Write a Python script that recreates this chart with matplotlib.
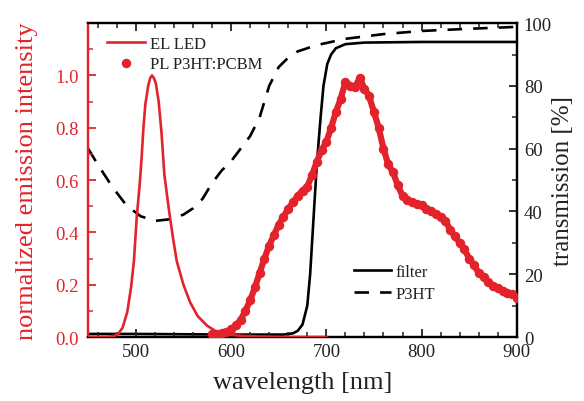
import matplotlib
matplotlib.use("Agg")
import matplotlib.pyplot as plt
from matplotlib.ticker import MultipleLocator

plt.rcParams['font.family'] = ['Liberation Serif', 'DejaVu Serif']
plt.rcParams['mathtext.fontset'] = 'stix'

RED = '#e3232b'

# EL LED emission (normalized)
el_wl = [450, 470, 478, 482, 486, 491, 495, 498, 501, 504, 506, 508, 510, 513, 515, 517, 519,
         521, 524, 527, 530, 535, 539, 543, 550, 557, 565, 575, 585, 595, 610, 630, 660, 700]
el_int = [0.0, 0.0, 0.005, 0.015, 0.035, 0.095, 0.19, 0.29, 0.46, 0.58, 0.68, 0.80, 0.89, 0.96, 0.99, 1.0, 0.99,
          0.97, 0.90, 0.78, 0.62, 0.48, 0.38, 0.29, 0.20, 0.133, 0.08, 0.043, 0.02, 0.01, 0.005, 0.002, 0.0, 0.0]

# PL P3HT:PCBM (normalized)
pl_wl = [580, 585, 590, 595, 600, 605, 610, 615, 620, 625, 630, 635, 640, 645, 650, 655, 660, 665, 670,
         675, 680, 685, 690, 695, 700, 705, 710, 715, 720, 725, 730, 735, 740, 745, 750, 755, 760, 765,
         770, 775, 780, 785, 790, 795, 800, 805, 810, 815, 820, 825, 830, 835, 840, 845, 850, 855, 860,
         865, 870, 875, 880, 885, 890, 895, 900]
pl_int = [0.01, 0.012, 0.015, 0.02, 0.03, 0.045, 0.065, 0.10, 0.14, 0.19, 0.245, 0.30, 0.35, 0.39, 0.43,
          0.46, 0.49, 0.515, 0.54, 0.56, 0.575, 0.62, 0.67, 0.715, 0.745, 0.80, 0.86, 0.91, 0.975, 0.96,
          0.955, 0.99, 0.95, 0.92, 0.86, 0.80, 0.72, 0.66, 0.63, 0.58, 0.54, 0.525, 0.515, 0.51, 0.505,
          0.49, 0.48, 0.47, 0.46, 0.445, 0.41, 0.385, 0.36, 0.335, 0.30, 0.275, 0.245, 0.23, 0.21, 0.197,
          0.188, 0.178, 0.17, 0.163, 0.15]

# filter transmission [%]
filt_wl = [450, 500, 600, 655, 665, 670, 675, 680, 683, 686, 690, 694, 697, 701, 705, 710, 720, 740, 800, 900]
filt_t = [1.0, 1.0, 0.8, 0.8, 1.2, 2.0, 4.0, 10.0, 20.0, 35.0, 55.0, 70.0, 80.0, 87.0, 90.0, 92.0, 93.3,
          93.8, 94.0, 94.0]

# P3HT transmission [%]
p3_wl = [450, 460, 475, 490, 505, 520, 535, 550, 560, 570, 580, 590, 600, 610, 620, 630, 640, 650, 660,
         670, 690, 720, 760, 800, 850, 900]
p3_t = [60, 55, 48, 42, 38.5, 37, 37.5, 39, 41, 44, 49, 53, 56, 60, 64, 70, 80, 86, 89, 91, 93, 95, 96.5,
        97.5, 98.2, 98.8]

fig = plt.figure(figsize=(5.84, 4.02), dpi=100)
ax = fig.add_axes([0.151, 0.159, 0.734, 0.781])
ax2 = ax.twinx()

# left axis: emission
ax.plot(pl_wl, pl_int, color=RED, lw=4.5, solid_capstyle='round', zorder=2)
ax.plot(el_wl, el_int, color=RED, lw=1.9, label='EL LED', zorder=3)
ax.plot(pl_wl, pl_int, 'o', color=RED, ms=5.8, mec=RED, label='PL P3HT:PCBM', zorder=3)
ax.set_xlim(450, 900)
ax.set_ylim(0, 1.2)

# right axis: transmission
ax2.plot(filt_wl, filt_t, color='black', lw=1.9, label='filter')
ax2.plot(p3_wl, p3_t, color='black', lw=1.9, ls=(0, (5.5, 4.2)), label='P3HT')
ax2.set_ylim(0, 100)
ax.set_zorder(ax2.get_zorder() + 1)
ax.patch.set_visible(False)

# ticks
ax.xaxis.set_major_locator(MultipleLocator(100))
ax.xaxis.set_minor_locator(MultipleLocator(20))
ax.yaxis.set_major_locator(MultipleLocator(0.2))
ax.yaxis.set_minor_locator(MultipleLocator(0.1))
ax2.yaxis.set_major_locator(MultipleLocator(20))
ax2.yaxis.set_minor_locator(MultipleLocator(10))

ax.tick_params(axis='x', which='both', direction='in', top=True, labelsize=13.5, colors='#222222', pad=4)
ax.tick_params(axis='x', which='major', length=6, width=1.3)
ax.tick_params(axis='x', which='minor', length=3.5, width=1.1)
ax.tick_params(axis='y', which='both', direction='in', colors=RED, labelsize=13.5, pad=7)
ax.tick_params(axis='y', which='major', length=6, width=1.3)
ax.tick_params(axis='y', which='minor', length=3.5, width=1.1)
ax2.tick_params(axis='y', which='both', direction='in', colors='#222222', labelsize=13.5, pad=5)
ax2.tick_params(axis='y', which='major', length=6, width=1.3)
ax2.tick_params(axis='y', which='minor', length=3.5, width=1.1)
ax.set_yticks([0, 0.2, 0.4, 0.6, 0.8, 1.0])
ax.set_yticklabels(['0.0', '0.2', '0.4', '0.6', '0.8', '1.0'])

for s in ['top', 'bottom', 'right']:
    ax.spines[s].set_linewidth(1.6)
    ax2.spines[s].set_linewidth(1.6)
ax.spines['left'].set_color(RED)
ax2.spines['left'].set_color(RED)
ax.spines['left'].set_linewidth(1.6)
ax2.spines['left'].set_linewidth(1.6)

ax.set_xlabel('wavelength [nm]', fontsize=19, color='#222222', labelpad=8)
ax.set_ylabel('normalized emission intensity', fontsize=19, color=RED, labelpad=12)
ax2.set_ylabel('transmission [%]', fontsize=18, color='#222222', labelpad=0)

leg1 = ax.legend(loc='upper left', bbox_to_anchor=(0.02, 0.99), frameon=False, fontsize=12,
                 handlelength=2.3, handletextpad=0.3, labelspacing=0.25, borderaxespad=0.2)
for t in leg1.get_texts():
    t.set_color('#222222')
leg2 = ax2.legend(loc='lower left', bbox_to_anchor=(0.585, 0.065), frameon=False, fontsize=12,
                  handlelength=2.2, handletextpad=0.3, labelspacing=0.35)
for t in leg2.get_texts():
    t.set_color('#222222')

fig.savefig('out.png', dpi=100)
